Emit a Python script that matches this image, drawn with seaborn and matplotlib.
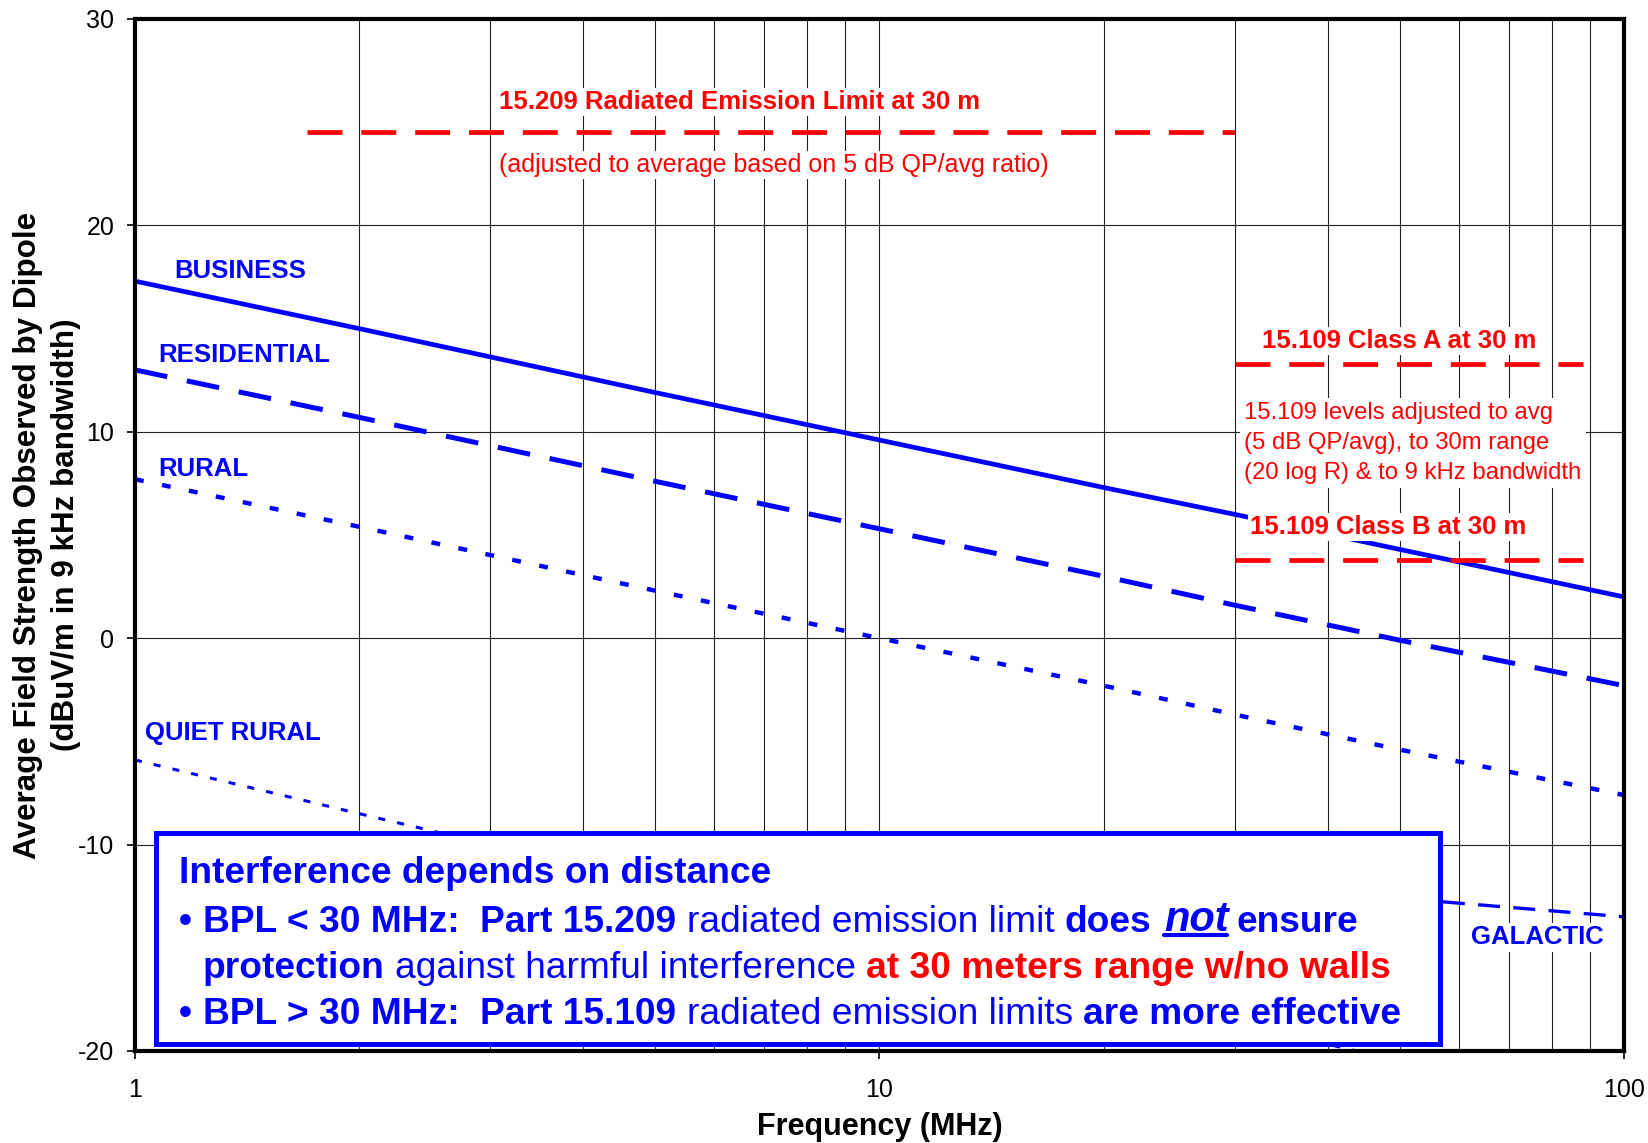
import numpy as np
import pandas as pd
import matplotlib.pyplot as plt
import seaborn as sns
from matplotlib.lines import Line2D
from matplotlib.patches import Rectangle
from matplotlib.ticker import FixedLocator, LogLocator, NullFormatter

sns.set_theme(style='white')
plt.rcParams['font.family'] = ['Liberation Sans', 'DejaVu Sans']
plt.rcParams['axes.unicode_minus'] = False

BLUE = '#0000FF'
RED = '#FF0000'

# noise levels (dBuV/m in 9 kHz bandwidth)
freq = [1, 2, 5, 10, 20, 30, 50, 100]
business = [17.3, 15.0, 11.9, 9.6, 7.3, 6.0, 4.3, 2.0]
residential = [13.0, 10.7, 7.6, 5.3, 3.0, 1.6, -0.1, -2.3]
rural = [7.7, 5.4, 2.3, 0.0, -2.3, -3.7, -5.4, -7.6]
quiet_rural = [-5.9, -8.5, -11.9, -14.5, -17.1, -18.6, -20.5, -23.1]
galactic_freq = [10, 20, 30, 50, 100]
galactic = [-10.5, -11.4, -11.9, -12.6, -13.5]

# FCC limits adjusted to 30 m / average / 9 kHz
limit_209_freq = [1.705, 30]
limit_209 = [24.5, 24.5]
class_freq = [30, 88]
class_a = [13.3, 13.3]
class_b = [3.8, 3.8]

y_ticks = [-20, -10, 0, 10, 20, 30]
x_ticks = [1, 10, 100]
x_ticklabels = ['1', '10', '100']

fig = plt.figure(figsize=(16.48, 11.43), dpi=100)
ax = fig.add_axes([0.0819, 0.0805, 0.9035, 0.9029])

# ruido
sns.lineplot(x=freq, y=business, ax=ax, color=BLUE, lw=3.4, linestyle='-', errorbar=None, zorder=3)
sns.lineplot(x=freq, y=residential, ax=ax, color=BLUE, lw=3.6, linestyle=(0, (6.6, 4)), errorbar=None, zorder=3)
sns.lineplot(x=freq, y=rural, ax=ax, color=BLUE, lw=3.2, linestyle=(0, (2.0, 4.2)), errorbar=None, zorder=3)
sns.lineplot(x=freq, y=quiet_rural, ax=ax, color=BLUE, lw=2.2, linestyle=(0, (2.3, 4)), errorbar=None, zorder=3)
sns.lineplot(x=galactic_freq, y=galactic, ax=ax, color=BLUE, lw=2.4, linestyle=(0, (6.6, 4)), errorbar=None, zorder=3)

# limites
for fx, fy in [(limit_209_freq, limit_209), (class_freq, class_a), (class_freq, class_b)]:
    sns.lineplot(x=fx, y=fy, ax=ax, color=RED, lw=3.4, linestyle=(0, (7.4, 4)), errorbar=None, zorder=3)

ax.set_xscale('log')
ax.set_xlim(1, 100)
ax.set_ylim(-20, 30)
ax.xaxis.set_major_locator(FixedLocator(x_ticks))
ax.set_xticklabels(x_ticklabels)
ax.xaxis.set_minor_locator(LogLocator(base=10, subs=np.arange(2, 10)))
ax.xaxis.set_minor_formatter(NullFormatter())
ax.set_yticks(y_ticks)
ax.set_yticklabels([str(v) for v in y_ticks])

ax.grid(True, which='both', axis='x', color='#222222', lw=0.8)
ax.grid(True, which='major', axis='y', color='#222222', lw=0.8)
ax.set_axisbelow(True)
ax.tick_params(which='major', direction='out', length=6, width=1.2, color='black',
               labelsize=18, labelcolor='black', bottom=True, left=True)
ax.tick_params(axis='y', pad=9)
ax.tick_params(axis='x', pad=13.5)
ax.tick_params(which='minor', length=0)
for s in ax.spines.values():
    s.set_visible(True)
    s.set_linewidth(3)
    s.set_color('black')
    s.set_zorder(10)

ax.set_xlabel('Frequency (MHz)', fontsize=22, fontweight='bold', color='black', labelpad=7)
ax.set_ylabel('Average Field Strength Observed by Dipole\n(dBuV/m in 9 kHz bandwidth)',
              fontsize=22.6, fontweight='bold', color='black', linespacing=1.35)
ax.yaxis.set_label_coords(-0.0365, 0.5)

white = dict(facecolor='white', edgecolor='none', pad=1.5)

# etiquetas de las curvas
ax.text(1.128, 17.8, 'BUSINESS', color=BLUE, fontsize=18.5, fontweight='bold', ha='left', va='center', bbox=white, zorder=5)
ax.text(1.074, 13.7, 'RESIDENTIAL', color=BLUE, fontsize=18.5, fontweight='bold', ha='left', va='center', bbox=white, zorder=5)
ax.text(1.074, 8.2, 'RURAL', color=BLUE, fontsize=18.5, fontweight='bold', ha='left', va='center', bbox=white, zorder=5)
ax.text(1.033, -4.6, 'QUIET RURAL', color=BLUE, fontsize=18.5, fontweight='bold', ha='left', va='center', bbox=white, zorder=5)
ax.text(76.4, -14.5, 'GALACTIC', color=BLUE, fontsize=18.5, fontweight='bold', ha='center', va='center', bbox=white, zorder=5)

ax.text(6.48, 25.98, '15.209 Radiated Emission Limit at 30 m', color=RED, fontsize=18.5, fontweight='bold',
        ha='center', va='center', bbox=white, zorder=5)
ax.text(7.21, 22.92, '(adjusted to average based on 5 dB QP/avg ratio)', color=RED, fontsize=18,
        ha='center', va='center', bbox=white, zorder=5)
ax.text(49.9, 14.4, '15.109 Class A at 30 m', color=RED, fontsize=18.5, fontweight='bold',
        ha='center', va='center', bbox=white, zorder=5)
ax.text(30.9, 9.45, '15.109 levels adjusted to avg\n(5 dB QP/avg), to 30m range\n(20 log R) & to 9 kHz bandwidth',
        color=RED, fontsize=17.2, ha='left', va='center', linespacing=1.45,
        bbox=dict(facecolor='white', edgecolor='none', pad=3), zorder=5)
ax.text(48.3, 5.4, '15.109 Class B at 30 m', color=RED, fontsize=18.5, fontweight='bold',
        ha='center', va='center', bbox=white, zorder=5)

# recuadro de conclusiones
ax.add_patch(Rectangle((0.0141, 0.0068), 0.8623, 0.2044, transform=ax.transAxes,
                       facecolor='white', edgecolor=BLUE, lw=3.6, zorder=6))

BOX_FS = 26.7


def rich_line(x, y, parts):
    prev = None
    out = []
    for text, color, weight, style, gap, *size in parts:
        fs = size[0] if size else BOX_FS
        kw = dict(color=color, fontsize=fs, fontweight=weight, fontstyle=style, zorder=7)
        if prev is None:
            prev = ax.text(x, y, text, transform=ax.transAxes, ha='left', va='baseline', **kw)
        else:
            prev = ax.annotate(text, xy=(1, 0), xycoords=prev, xytext=(gap * BOX_FS, 0),
                               textcoords='offset points', ha='left', va='bottom', **kw)
        out.append(prev)
    return out


rich_line(0.0293, 0.1628, [('Interference depends on distance', BLUE, 'bold', 'normal', 0)])
l2 = rich_line(0.0293, 0.1153, [
    ('\u2022', BLUE, 'bold', 'normal', 0),
    ('BPL < 30 MHz:', BLUE, 'bold', 'normal', 0.3),
    ('Part 15.209', BLUE, 'bold', 'normal', 0.556),
    ('radiated emission limit', BLUE, 'normal', 'normal', 0.278),
    ('does', BLUE, 'bold', 'normal', 0.278),
    ('not', BLUE, 'bold', 'italic', 0.36, 30),
    ('ensure', BLUE, 'bold', 'normal', 0.2),
])
rich_line(0.0455, 0.0707, [
    ('protection', BLUE, 'bold', 'normal', 0),
    ('against harmful interference', BLUE, 'normal', 'normal', 0.278),
    ('at 30 meters range w/no walls', RED, 'bold', 'normal', 0.278),
])
rich_line(0.0293, 0.0262, [
    ('\u2022', BLUE, 'bold', 'normal', 0),
    ('BPL > 30 MHz:', BLUE, 'bold', 'normal', 0.3),
    ('Part 15.109', BLUE, 'bold', 'normal', 0.556),
    ('radiated emission limits', BLUE, 'normal', 'normal', 0.278),
    ('are more effective', BLUE, 'bold', 'normal', 0.278),
])

# subrayado de "not"
fig.canvas.draw()
bb = l2[5].get_window_extent()
inv = fig.transFigure.inverted()
(x0, y0), (x1, _) = inv.transform([(bb.x0, bb.y0 + 5), (bb.x1 - 2, bb.y0 + 5)])
fig.add_artist(Line2D([x0, x1], [y0, y0], transform=fig.transFigure, color=BLUE, lw=3, zorder=8))

fig.savefig('out.png', dpi=100)
plt.close()
